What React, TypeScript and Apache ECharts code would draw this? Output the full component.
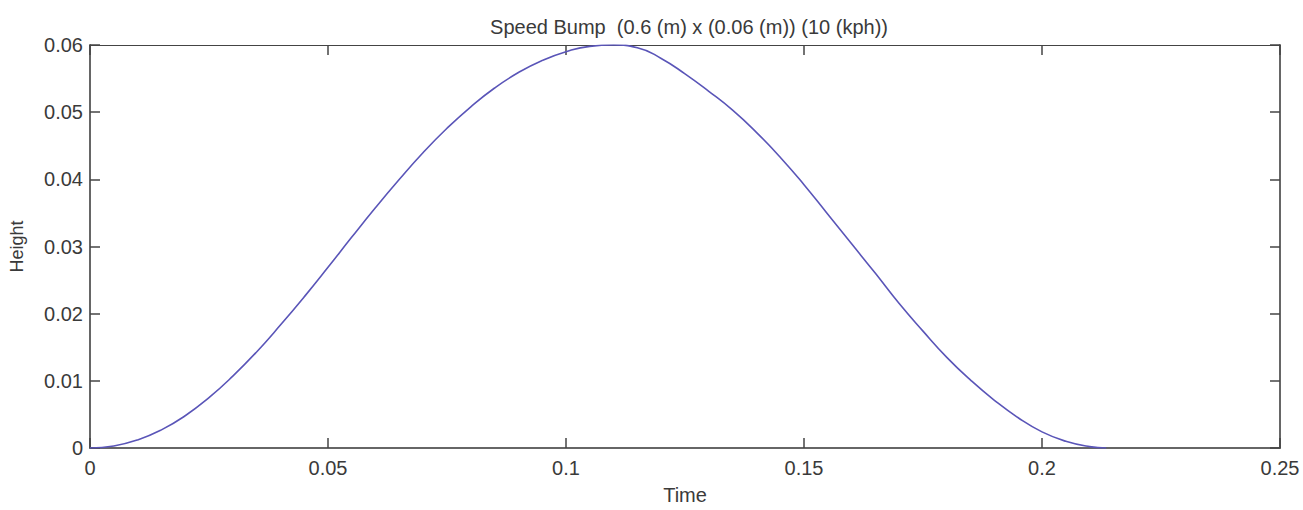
import React, { useEffect, useRef } from "react";
import * as echarts from "echarts";

const titleText = "Speed Bump  (0.6 (m) x (0.06 (m)) (10 (kph))";
const xName = "Time";
const yName = "Height";

// Time (s)
const timeValues = [
  0, 0.005, 0.01, 0.015, 0.02, 0.025, 0.03, 0.035, 0.04, 0.045, 0.05, 0.055,
  0.06, 0.065, 0.07, 0.075, 0.08, 0.085, 0.09, 0.095, 0.1, 0.105, 0.11, 0.115,
  0.12, 0.125, 0.13, 0.135, 0.14, 0.145, 0.15, 0.155, 0.16, 0.165, 0.17, 0.175,
  0.18, 0.185, 0.19, 0.195, 0.2, 0.205, 0.21, 0.2135,
];
// Height (m)
const heightValues = [
  0, 0.0003, 0.0012, 0.0027, 0.0048, 0.0075, 0.0107, 0.0143, 0.0183, 0.0225,
  0.0269, 0.0314, 0.0358, 0.04, 0.044, 0.0476, 0.0508, 0.0536, 0.0559, 0.0577,
  0.059, 0.0598, 0.06, 0.0596, 0.058, 0.0557, 0.0531, 0.0503, 0.047, 0.0433,
  0.0392, 0.0348, 0.0304, 0.026, 0.0215, 0.0174, 0.0135, 0.0101, 0.0071,
  0.0045, 0.0024, 0.001, 0.0002, 0,
];

const fmt = (v: number) => String(+v.toFixed(3));
const FONT = "'Liberation Sans', Arial, sans-serif";
const TEXT = "#3a3a3a";

const mkLine = (w: number, c: string) => ({ show: true, onZero: false, lineStyle: { color: c, width: w } });
const mkTick = () => ({ show: true, inside: true, length: 10, lineStyle: { color: "#444", width: 1.5 } });

export default function App() {
  const ref = useRef<HTMLDivElement>(null);
  useEffect(() => {
    if (!ref.current) return;
    const chart = echarts.init(ref.current, undefined, { renderer: "svg" });
    chart.setOption({
      animation: false,
      backgroundColor: "#ffffff",
      title: {
        text: titleText,
        left: 684,
        textAlign: "center",
        top: 12,
        textStyle: { color: TEXT, fontSize: 20, fontWeight: "normal", fontFamily: FONT },
      },
      grid: { left: 89, right: 23, top: 45, bottom: 55, containLabel: false },
      xAxis: [
        {
          type: "value",
          min: 0,
          max: 0.25,
          interval: 0.05,
          position: "bottom",
          axisLine: mkLine(2, "#666"),
          axisTick: mkTick(),
          splitLine: { show: false },
          axisLabel: { color: TEXT, fontSize: 20, fontFamily: FONT, margin: 10, formatter: fmt },
          name: xName,
          nameLocation: "middle",
          nameGap: 37,
          nameTextStyle: { color: TEXT, fontSize: 20, fontFamily: FONT },
        },
        {
          type: "value",
          min: 0,
          max: 0.25,
          interval: 0.05,
          position: "top",
          axisLine: mkLine(1.2, "#444"),
          axisTick: mkTick(),
          splitLine: { show: false },
          axisLabel: { show: false },
        },
      ],
      yAxis: [
        {
          type: "value",
          min: 0,
          max: 0.06,
          interval: 0.01,
          position: "left",
          axisLine: mkLine(2, "#666"),
          axisTick: mkTick(),
          splitLine: { show: false },
          axisLabel: { color: TEXT, fontSize: 20, fontFamily: FONT, margin: 7, formatter: fmt },
          name: yName,
          nameLocation: "middle",
          nameGap: 64,
          nameTextStyle: { color: TEXT, fontSize: 18, fontFamily: FONT },
        },
        {
          type: "value",
          min: 0,
          max: 0.06,
          interval: 0.01,
          position: "right",
          axisLine: mkLine(2, "#666"),
          axisTick: mkTick(),
          splitLine: { show: false },
          axisLabel: { show: false },
        },
      ],
      series: [
        {
          type: "line",
          data: timeValues.map((t, i) => [t, heightValues[i]]),
          showSymbol: false,
          smooth: true,
          lineStyle: { color: "#5a55b8", width: 1.6 },
          xAxisIndex: 0,
          yAxisIndex: 0,
        },
        {
          type: "line",
          data: [],
          xAxisIndex: 1,
          yAxisIndex: 1,
        },
      ],
    });
    return () => chart.dispose();
  }, []);
  return (
    <div
      ref={ref}
      style={{ position: "fixed", left: 0, top: 0, width: 1303, height: 510, background: "#fff" }}
    />
  );
}
